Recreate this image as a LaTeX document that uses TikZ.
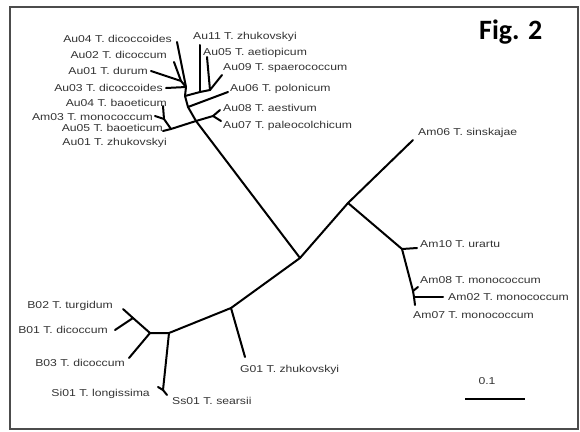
\documentclass[tikz,border=0pt]{standalone}
\usepackage{fontspec}
\newfontfamily\lab[FakeStretch=1.22]{Liberation Sans}
\newfontfamily\figfont{Carlito}
\begin{document}
\begin{tikzpicture}[x=1pt,y=-1pt,
  br/.style={line width=2pt,line cap=round,line join=round},
  lbl/.style={font={\fontsize{10}{12}\lab}, text=black!80, inner sep=0pt},
  lw/.style={lbl, anchor=west},
  le/.style={lbl, anchor=east}]
\useasboundingbox (0,0) rectangle (580,431);
\draw[gray!60!black, line width=1.2pt] (10,7) rectangle (578,429);

% ---------- tree nodes ----------
\coordinate (C) at (300,258);
% upper cluster
\coordinate (T0) at (196,121);
\coordinate (T1) at (188,107);
\coordinate (T2) at (185,96);
\coordinate (T3) at (186,87);
\coordinate (T4) at (181,81);
\coordinate (eAu04d) at (177,42);
\coordinate (eAu02) at (174,62);
\coordinate (eAu01) at (151,71);
\coordinate (eAu03) at (166,88);
\coordinate (R1) at (200,92);
\coordinate (R2) at (210,90);
\coordinate (eAu11) at (200,45);
\coordinate (eAu05a) at (207,57);
\coordinate (eAu09) at (222,75);
\coordinate (eAu06) at (228,92);
\coordinate (R0) at (213,116);
\coordinate (eAu08) at (220,110);
\coordinate (eAu07) at (221,121);
\coordinate (L0) at (171,129);
\coordinate (L1) at (164,119);
\coordinate (eAu04b) at (163,106);
\coordinate (eAm03) at (155,116);
\coordinate (eAu05b) at (163,131);
% right cluster
\coordinate (R) at (348,203);
\coordinate (eAm06) at (413,140);
\coordinate (A10) at (402,249);
\coordinate (eAm10) at (417,248);
\coordinate (A8) at (413,291);
\coordinate (eAm08) at (418,287);
\coordinate (A2) at (414,297);
\coordinate (eAm02) at (443,297);
\coordinate (eAm07) at (415,305);
% lower cluster
\coordinate (G) at (231,308);
\coordinate (eG01) at (245,357);
\coordinate (Bn) at (169,333);
\coordinate (Bi) at (150,333);
\coordinate (Bf) at (133,318);
\coordinate (eB02) at (123,309);
\coordinate (eB01) at (115,330);
\coordinate (eB03) at (129,358);
\coordinate (S) at (163,390);
\coordinate (eSi01) at (158,387);
\coordinate (eSs01) at (167,395);

% ---------- branches ----------
\draw[br] (C) -- (T0) -- (T1) -- (T2) -- (T3) -- (T4);
\draw[br] (T3) -- (eAu04d);
\draw[br] (T4) -- (eAu02);
\draw[br] (T4) -- (eAu01);
\draw[br] (T3) -- (eAu03);
\draw[br] (T2) -- (R1) -- (R2);
\draw[br] (R1) -- (eAu11);
\draw[br] (R2) -- (eAu05a);
\draw[br] (R2) -- (eAu09);
\draw[br] (T1) -- (eAu06);
\draw[br] (T0) -- (R0);
\draw[br] (R0) -- (eAu08);
\draw[br] (R0) -- (eAu07);
\draw[br] (T0) -- (L0) -- (L1);
\draw[br] (L1) -- (eAu04b);
\draw[br] (L1) -- (eAm03);
\draw[br] (L0) -- (eAu05b);
\draw[br] (C) -- (R) -- (eAm06);
\draw[br] (R) -- (A10) -- (eAm10);
\draw[br] (A10) -- (A8) -- (A2) -- (eAm07);
\draw[br] (A8) -- (eAm08);
\draw[br] (A2) -- (eAm02);
\draw[br] (C) -- (G) -- (eG01);
\draw[br] (G) -- (Bn) -- (Bi);
\draw[br] (Bi) -- (Bf) -- (eB02);
\draw[br] (Bf) -- (eB01);
\draw[br] (Bi) -- (eB03);
\draw[br] (Bn) -- (S);
\draw[br] (S) -- (eSi01);
\draw[br] (S) -- (eSs01);

% ---------- labels ----------
\node[le] (lAu04d) at (172,39) {Au04 T. dicoccoides};
\node[le] (lAu02) at (167,55) {Au02 T. dicoccum};
\node[le] (lAu01) at (148,71) {Au01 T. durum};
\node[le] (lAu03) at (163,88) {Au03 T. dicoccoides};
\node[le] (lAu04b) at (167,103) {Au04 T. baoeticum};
\node[le] (lAm03) at (153,117) {Am03 T. monococcum};
\node[le] (lAu05b) at (163,128) {Au05 T. baoeticum};
\node[le] (lAu01z) at (167,143) {Au01 T. zhukovskyi};
\node[lw] (lAu11) at (193,37) {Au11 T. zhukovskyi};
\node[lw] (lAu05a) at (203,53) {Au05 T. aetiopicum};
\node[lw] (lAu09) at (223,68) {Au09 T. spaerococcum};
\node[lw] (lAu06) at (230,89) {Au06 T. polonicum};
\node[lw] (lAu08) at (223,108) {Au08 T. aestivum};
\node[lw] (lAu07) at (223,126) {Au07 T. paleocolchicum};
\node[lw] (lAm06) at (418,133) {Am06 T. sinskajae};
\node[lw] (lAm10) at (420,244) {Am10 T. urartu};
\node[lw] (lAm08) at (420,280) {Am08 T. monococcum};
\node[lw] (lAm02) at (448,297) {Am02 T. monococcum};
\node[lw] (lAm07) at (413,315) {Am07 T. monococcum};
\node[lw] (lG01) at (240,370) {G01 T. zhukovskyi};
\node[le] (lB02) at (113,306) {B02 T. turgidum};
\node[le] (lB01) at (108,330) {B01 T. dicoccum};
\node[le] (lB03) at (125,363) {B03 T. dicoccum};
\node[le] (lSi01) at (150,394) {Si01 T. longissima};
\node[lw] (lSs01) at (172,401) {Ss01 T. searsii};

% ---------- scale bar and title ----------
\coordinate (sb1) at (465,399);
\coordinate (sb2) at (525,399);
\draw[line width=1.2pt] (sb1) -- (sb2);
\node[lbl] (sbl) at (487,381) {0.1};
\node[font={\fontsize{28}{32}\figfont\bfseries}, anchor=west, inner sep=0pt] (fig) at (479,32) {Fig. 2};
\end{tikzpicture}
\end{document}
